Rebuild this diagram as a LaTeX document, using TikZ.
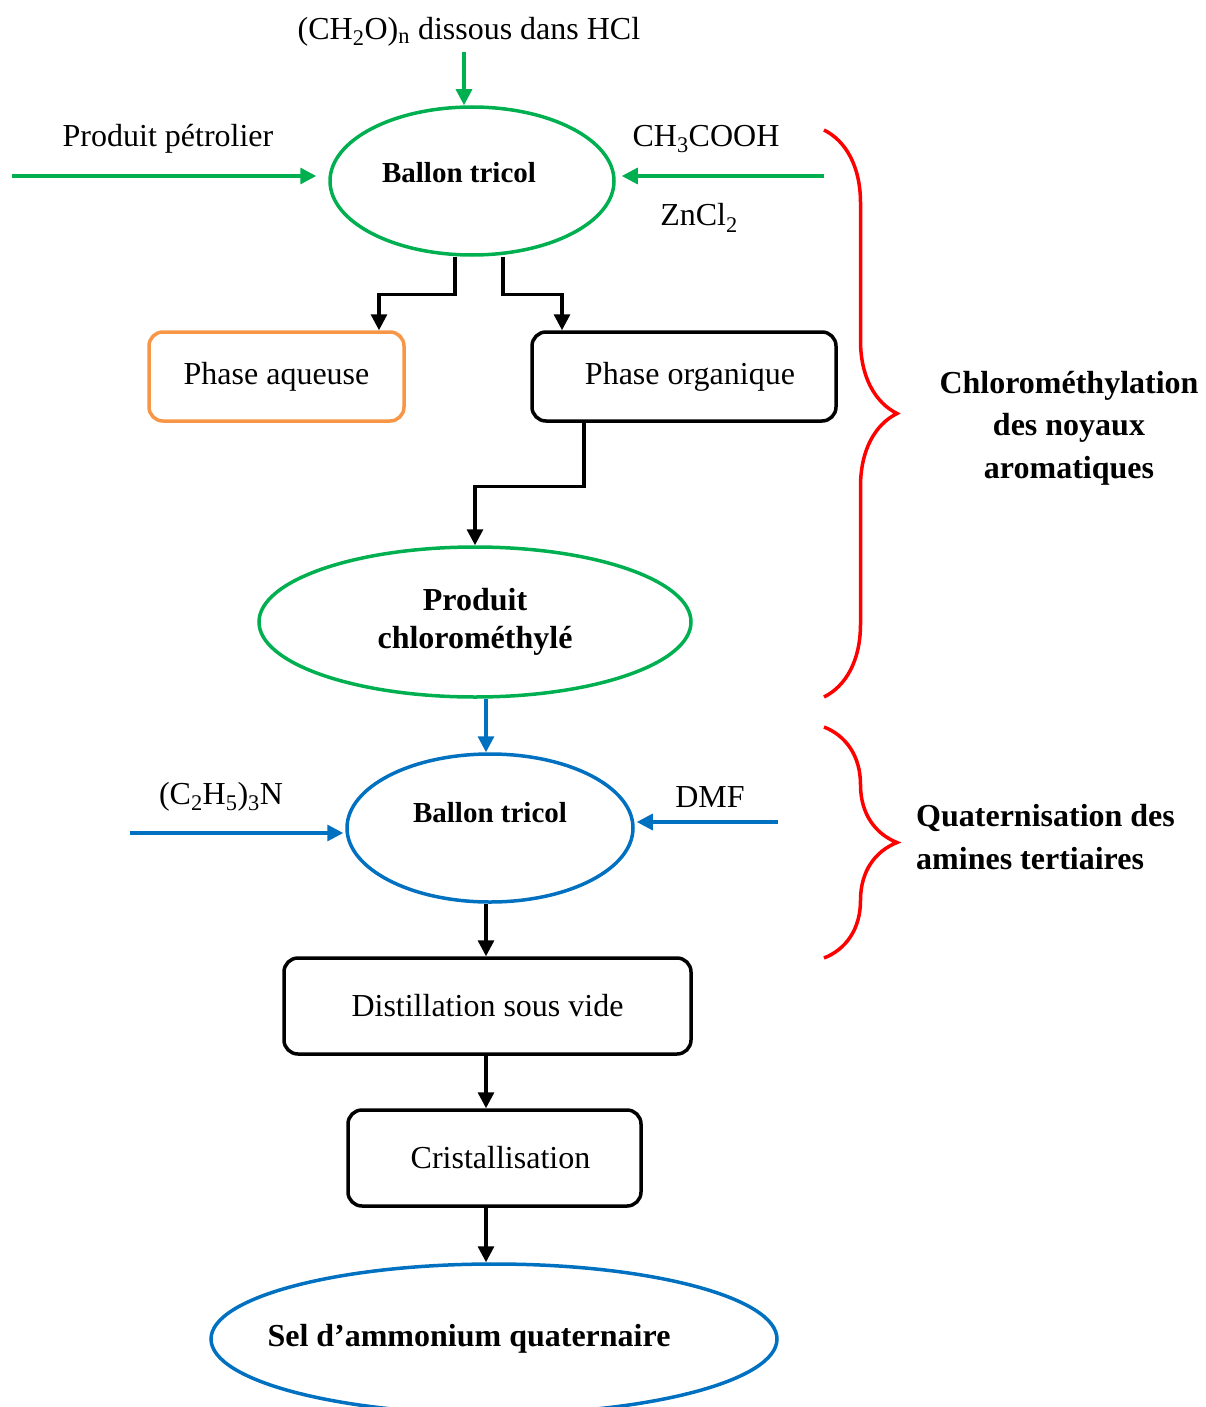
\documentclass[tikz,border=0pt]{standalone}
\usepackage{fontspec}
\setmainfont{Liberation Serif}
\usetikzlibrary{shapes.geometric,arrows.meta,decorations.pathreplacing}
\definecolor{vert}{RGB}{0,176,80}
\definecolor{bleu}{RGB}{0,112,192}
\definecolor{orangeclair}{RGB}{247,150,70}
\newcommand{\taille}{\fontsize{32}{38}\selectfont}

\begin{document}
\begin{tikzpicture}[x=1pt,y=-1pt]
\tikzstyle{fleche} = [line width=3.2pt,-{Triangle[length=16pt,width=16pt]}]
\tikzstyle{boite} = [draw,line width=3.5pt,rounded corners=14pt,inner sep=0pt,font=\taille]
\tikzstyle{ballon} = [ellipse,draw,line width=3.5pt,inner sep=0pt,font=\taille\bfseries]
\tikzstyle{texte} = [inner sep=0pt,font=\taille]
\tikzstyle{accolade} = [red,line width=3.5pt,decorate,decoration={brace,amplitude=73pt}]
  \useasboundingbox (0,0) rectangle (1205,1407);
  \clip (0,0) rectangle (1205,1407);
  %chloromethylation
  \node[ballon,draw=vert,minimum width=284pt,minimum height=148pt,font=\fontsize{29}{34}\selectfont\bfseries,text depth=18pt] (ballonA) at (472,181) {\hspace{-26pt}Ballon tricol};
  \node[texte] (formol) at (469,32) {(CH\textsubscript{2}O)\textsubscript{n} dissous dans HCl};
  \node[texte] (petrole) at (168,139) {Produit pétrolier};
  \node[texte] (acide) at (706,139) {CH\textsubscript{3}COOH};
  \node[texte] (zinc) at (699,218) {ZnCl\textsubscript{2}};
  \coordinate (haut) at (464,52);
  \coordinate (gauche) at (12,176);
  \coordinate (droite) at (824,176);
  \draw[fleche,vert] (haut) -- (haut |- ballonA.north);
  \draw[fleche,vert,shorten >=12pt] (gauche) -- (gauche -| ballonA.west);
  \draw[fleche,vert,shorten >=6pt] (droite) -- (droite -| ballonA.east);
    %phases
    \node[boite,draw=orangeclair,minimum width=255pt,minimum height=89pt] (aqueuse) at (276.5,376.5) {Phase aqueuse\hspace{6pt}};
    \node[boite,minimum width=304pt,minimum height=89pt] (organique) at (684,376.5) {\hspace{12pt}Phase organique};
    \draw[fleche] ([xshift=-17pt]ballonA.south) -- ++(0,38) -| ([xshift=102.5pt]aqueuse.north);
    \draw[fleche] ([xshift=31pt]ballonA.south) -- ++(0,38) -| ([xshift=-122pt]organique.north);
  \node[ballon,draw=vert,minimum width=432pt,minimum height=150pt,align=center] (chloro) at (475,622) {Produit\\chlorométhylé};
  \draw[fleche] ([xshift=-100pt]organique.south) -- ++(0,64) -| (chloro.north);
  %quaternisation
  \node[ballon,draw=bleu,minimum width=286pt,minimum height=148pt,font=\fontsize{29}{34}\selectfont\bfseries,text depth=32pt] (ballonB) at (490,828) {Ballon tricol};
  \node[texte] (amine) at (221,797) {(C\textsubscript{2}H\textsubscript{5})\textsubscript{3}N};
  \node[texte] (dmf) at (710,797) {DMF};
  \coordinate (gaucheB) at (130,833);
  \coordinate (droiteB) at (778,822);
  \draw[fleche,bleu] ([xshift=11pt]chloro.south) -- ([xshift=11pt]chloro.south |- ballonB.north);
  \draw[fleche,bleu,shorten >=2pt] (gaucheB) -- (gaucheB -| ballonB.west);
  \draw[fleche,bleu,shorten >=2pt] (droiteB) -- (droiteB -| ballonB.east);
    %purification
    \node[boite,minimum width=407pt,minimum height=96pt] (distillation) at (487.5,1006) {Distillation sous vide\hspace{6pt}};
    \node[boite,minimum width=293pt,minimum height=96pt] (cristal) at (494.5,1158) {\hspace{12pt}Cristallisation};
    \node[ballon,draw=bleu,minimum width=566pt,minimum height=150pt] (sel) at (494,1339) {\hspace{-50pt}Sel d’ammonium quaternaire};
    \draw[fleche] ([xshift=-4pt]ballonB.south) -- ([xshift=-4pt]ballonB.south |- distillation.north);
    \draw[fleche] ([xshift=-1.5pt]distillation.south) -- ([xshift=-1.5pt]distillation.south |- cristal.north);
    \draw[fleche] ([xshift=-8.5pt]cristal.south) -- ([xshift=-8.5pt]cristal.south |- sel.north);
  %accolades
  \draw[accolade] (824,130) -- (824,697);
  \draw[accolade] (824,727) -- (824,958);
  \node[texte,font=\fontsize{32}{42.5}\selectfont\bfseries,align=center] (etapeA) at (1069,428) {Chlorométhylation\\des noyaux\\aromatiques};
  \node[texte,font=\fontsize{32}{43}\selectfont\bfseries,align=left,anchor=west] (etapeB) at (916,837) {Quaternisation des\\amines tertiaires};
\end{tikzpicture}
\end{document}
